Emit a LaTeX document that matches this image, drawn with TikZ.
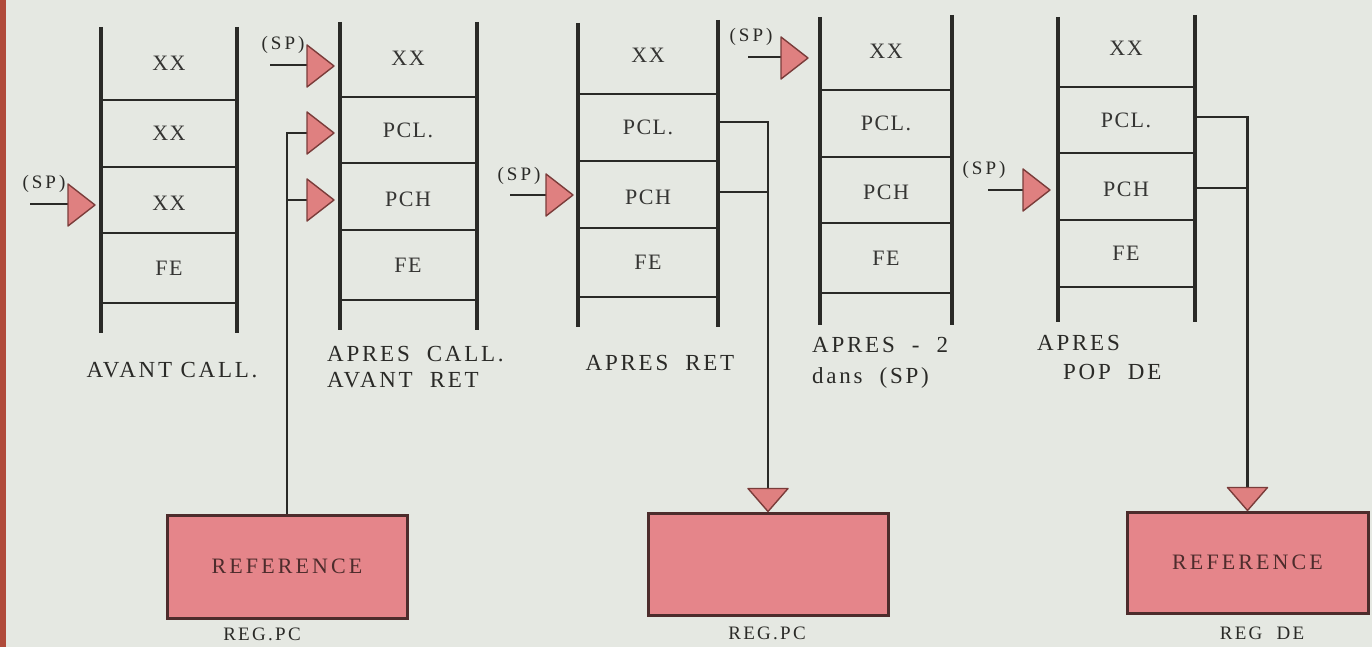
\documentclass[tikz,border=0pt]{standalone}
\usepackage{fontspec}
\setmainfont{Liberation Serif}
\newfontfamily\cellfont[LetterSpace=7]{Liberation Serif}
\newfontfamily\labfont[LetterSpace=12]{Liberation Serif}
\newfontfamily\boxfont[LetterSpace=14]{Liberation Serif}
\newfontfamily\spfont[LetterSpace=16]{Liberation Serif}
\usetikzlibrary{calc}
\definecolor{bgcol}{HTML}{E5E8E2}
\definecolor{stripcol}{HTML}{B04A3A}
\definecolor{pinkfill}{HTML}{E5858A}
\definecolor{boxline}{HTML}{4D2C2C}
\definecolor{trifillc}{HTML}{DF8080}
\definecolor{triline}{HTML}{7A3C3A}
\definecolor{inkcol}{HTML}{2A2A27}
\definecolor{celltext}{HTML}{353533}
\tikzset{
  rail/.style={line width=4pt, draw=inkcol},
  sep/.style={line width=2.8pt, draw=inkcol},
  conn/.style={line width=2.6pt, draw=inkcol},
  cell/.style={font=\cellfont\fontsize{22}{24}\selectfont, text=celltext, inner sep=0pt},
  lab/.style={font=\labfont\fontsize{23}{25}\selectfont, text=inkcol, inner sep=0pt},
  reglab/.style={font=\labfont\fontsize{19}{21}\selectfont, text=inkcol, inner sep=0pt},
  sptext/.style={font=\spfont\fontsize{19}{21}\selectfont, text=inkcol, inner sep=0pt},
  regbox/.style={draw=boxline, line width=3pt, fill=pinkfill, inner sep=0pt,
     font=\boxfont\fontsize{22}{24}\selectfont, text=boxline},
  trifill/.style={draw=triline, line width=1.4pt, fill=trifillc, line join=round},
  rptr/.pic={\draw[trifill] (-27,-21) -- (0,0) -- (-27,21) -- cycle;},
  dptr/.pic={\draw[trifill] (0,0) -- (-20,-23) -- (20,-23) -- cycle;}
}
\begin{document}
\begin{tikzpicture}[x=1pt,y=-1pt]
\fill[bgcol] (0,0) rectangle (1372,647);
\useasboundingbox (0,0) rectangle (1372,647);
\fill[stripcol] (0,0) rectangle (6,647);

% ---------- Stack 1 : AVANT CALL
\draw[rail] (101,27) -- (101,333);
\draw[rail] (237,27) -- (237,333);
\foreach \yy in {100,167,233,303} \draw[sep] (101,\yy) -- (237,\yy);
\node[cell] (s1c1) at (169,63) {XX};
\node[cell] (s1c2) at (169,133) {XX};
\node[cell] (s1c3) at (169,203) {XX};
\node[cell] (s1c4) at (169,268) {FE};
\node[lab] (l1) at (172,370) {AVANT\ CALL.};
\node[sptext] (sp1) at (44,184) {(SP)};
\coordinate (t1) at (30,204);
\coordinate (a1) at (95,205);
\coordinate (b1) at (68,204);
\draw[conn] (t1) -- (b1);
\pic at (a1) {rptr};

% ---------- Stack 2 : APRES CALL / AVANT RET
\draw[rail] (340,22) -- (340,330);
\draw[rail] (477,22) -- (477,330);
\foreach \yy in {97,163,230,300} \draw[sep] (340,\yy) -- (477,\yy);
\node[cell] (s2c1) at (408,58) {XX};
\node[cell] (s2c2) at (408,130) {PCL.};
\node[cell] (s2c3) at (408,199) {PCH};
\node[cell] (s2c4) at (408,265) {FE};
\node[lab, anchor=west] (l2a) at (327,354) {APRES\ \ CALL.};
\node[lab, anchor=west] (l2b) at (327,380) {AVANT\ \ RET};
\node[sptext] (sp2) at (283,45) {(SP)};
\coordinate (t2) at (270,65);
\coordinate (b2) at (307,65);
\coordinate (a2) at (334,66);
\draw[conn] (t2) -- (b2);
\pic at (a2) {rptr};

% ---------- Stack 3 : APRES RET
\draw[rail] (578,23) -- (578,327);
\draw[rail] (718,20) -- (718,327);
\foreach \yy in {94,161,228,297} \draw[sep] (578,\yy) -- (718,\yy);
\node[cell] (s3c1) at (648,55) {XX};
\node[cell] (s3c2) at (648,127) {PCL.};
\node[cell] (s3c3) at (648,197) {PCH};
\node[cell] (s3c4) at (648,262) {FE};
\node[lab] (l3) at (660,363) {APRES\ \ RET};
\node[sptext] (sp3) at (519,176) {(SP)};
\coordinate (t3) at (510,195);
\coordinate (b3) at (547,195);
\coordinate (a3) at (573,195);
\draw[conn] (t3) -- (b3);
\pic at (a3) {rptr};

% ---------- Stack 4 : APRES - 2 dans (SP)
\draw[rail] (820,17) -- (820,325);
\draw[rail] (952,15) -- (952,325);
\foreach \yy in {90,157,223,293} \draw[sep] (820,\yy) -- (952,\yy);
\node[cell] (s4c1) at (886,51) {XX};
\node[cell] (s4c2) at (886,123) {PCL.};
\node[cell] (s4c3) at (886,192) {PCH};
\node[cell] (s4c4) at (886,258) {FE};
\node[lab, anchor=west] (l4a) at (812,345) {APRES\ \ -\ \ 2};
\node[lab, anchor=west] (l4b) at (812,378) {dans\ \ (SP)};
\node[sptext] (sp4) at (751,37) {(SP)};
\coordinate (t4) at (748,57);
\coordinate (b4) at (781,57);
\coordinate (a4) at (808,58);
\draw[conn] (t4) -- (b4);
\pic at (a4) {rptr};

% ---------- Stack 5 : APRES POP DE
\draw[rail] (1058,17) -- (1058,322);
\draw[rail] (1195,15) -- (1195,322);
\foreach \yy in {87,153,220,287} \draw[sep] (1058,\yy) -- (1195,\yy);
\node[cell] (s5c1) at (1126,48) {XX};
\node[cell] (s5c2) at (1126,120) {PCL.};
\node[cell] (s5c3) at (1126,189) {PCH};
\node[cell] (s5c4) at (1126,253) {FE};
\node[lab, anchor=west] (l5a) at (1037,343) {APRES};
\node[lab, anchor=west] (l5b) at (1063,372) {POP\ \ DE};
\node[sptext] (sp5) at (984,170) {(SP)};
\coordinate (t5) at (988,190);
\coordinate (b5) at (1023,190);
\coordinate (a5) at (1050,190);
\draw[conn] (t5) -- (b5);
\pic at (a5) {rptr};

% ---------- Register boxes
\node[regbox, minimum width=240pt, minimum height=103pt] (B1) at (287,566.5) {REFERENCE};
\node[regbox, minimum width=240pt, minimum height=102pt] (B2) at (768,564) {};
\node[regbox, minimum width=241pt, minimum height=101pt] (B3) at (1247.5,562.5) {REFERENCE};
\node[reglab] (r1) at (262,634) {REG.PC};
\node[reglab] (r2) at (767,633) {REG.PC};
\node[reglab] (r3) at (1262,633) {REG\ \ DE};

% ---------- Connectors: REFERENCE -> PCL / PCH (CALL)
\coordinate (pcl2) at (307,133);
\coordinate (pch2) at (307,200);
\draw[conn] (B1.north) |- (pcl2);
\draw[conn] (pch2) -- (pch2 -| B1.north);
\pic at (334,133) {rptr};
\pic at (334,200) {rptr};

% ---------- Connectors: PCL / PCH -> REG.PC (RET)
\coordinate (o3a) at (718,122);
\coordinate (o3b) at (718,192);
\draw[conn] (o3a) -| ($(B2.north)+(0,-23)$);
\draw[conn] (o3b) -- (o3b -| B2.north);
\pic at (B2.north) {dptr};

% ---------- Connectors: PCL / PCH -> REG DE (POP DE)
\coordinate (o5a) at (1195,117);
\coordinate (o5b) at (1195,188);
\draw[conn] (o5a) -| ($(B3.north)+(0,-23)$);
\draw[conn] (o5b) -- (o5b -| B3.north);
\pic at (B3.north) {dptr};
\end{tikzpicture}
\end{document}
